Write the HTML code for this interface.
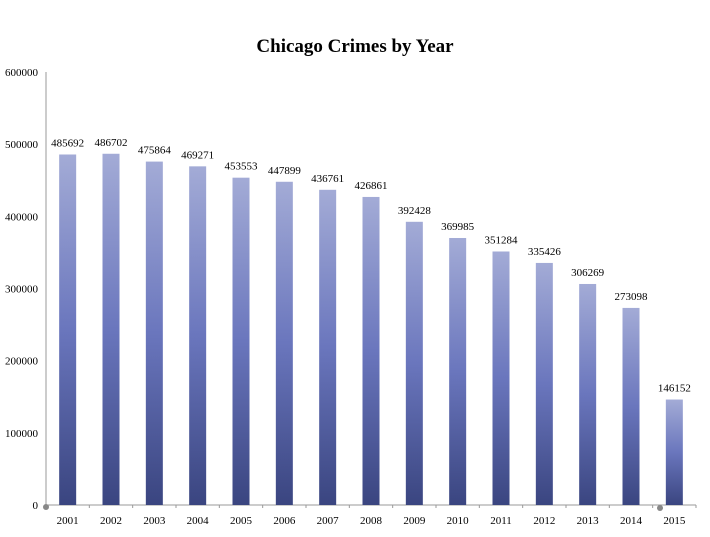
<!DOCTYPE html>
<html><head><meta charset="utf-8"><style>
body{margin:0;background:#fff;width:710px;height:532px;overflow:hidden}
svg text{font-family:"Liberation Serif",serif}
</style></head><body>
<svg id="c" width="710" height="532">
<defs><linearGradient id="g" x1="0" y1="0" x2="0" y2="1">
<stop offset="0" stop-color="#a3abd6"/><stop offset="0.5" stop-color="#6a76bd"/><stop offset="1" stop-color="#3a4580"/></linearGradient></defs>
<text x="355" y="52" text-anchor="middle" font-size="19" font-weight="bold">Chicago Crimes by Year</text>
</svg>
<script>
const categories=["2001","2002","2003","2004","2005","2006","2007","2008","2009","2010","2011","2012","2013","2014","2015"];
const values=[485692,486702,475864,469271,453553,447899,436761,426861,392428,369985,351284,335426,306269,273098,146152];
const yTicks=[0,100000,200000,300000,400000,500000,600000];
const svg=document.getElementById('c');const NS='http://www.w3.org/2000/svg';
const X0=46,X1=696,Y0=505,Y1=72,YMAX=600000;
const step=(X1-X0)/categories.length;
const y=v=>Y0-(v/YMAX)*(Y0-Y1);
const x=i=>X0+step*(i+0.5);
function mk(t,a){const e=document.createElementNS(NS,t);for(const k in a)e.setAttribute(k,a[k]);svg.appendChild(e);return e;}
let ax=mk('line',{x1:X0,y1:Y1,x2:X0,y2:Y0,stroke:'#999'});


let bx=mk('line',{x1:X0,y1:Y0,x2:X1,y2:Y0,stroke:'#999'});


yTicks.forEach(t=>{const tl=mk('text',{x:X0-8,y:y(t)+4,'text-anchor':'end','font-size':'11'});tl.textContent=t;

});
for(let i=0;i<=categories.length;i++){const tk=mk('line',{x1:X0+step*i,y1:Y0,x2:X0+step*i,y2:Y0+3,stroke:'#999'});

}
categories.forEach((c,i)=>{
const b=mk('rect',{x:x(i)-8.5,y:y(values[i]),width:17,height:Y0-y(values[i]),fill:'url(#g)'});


const l=mk('text',{x:x(i),y:y(values[i])-8,'text-anchor':'middle','font-size':'11'});l.textContent=values[i];


const cl=mk('text',{x:x(i),y:Y0+19,'text-anchor':'middle','font-size':'11'});cl.textContent=c;


});
let d1=mk('circle',{cx:X0,cy:Y0+2,r:3,fill:'#888'});


let d2=mk('circle',{cx:660,cy:Y0+3,r:3,fill:'#888'});


</script>
</body></html>
